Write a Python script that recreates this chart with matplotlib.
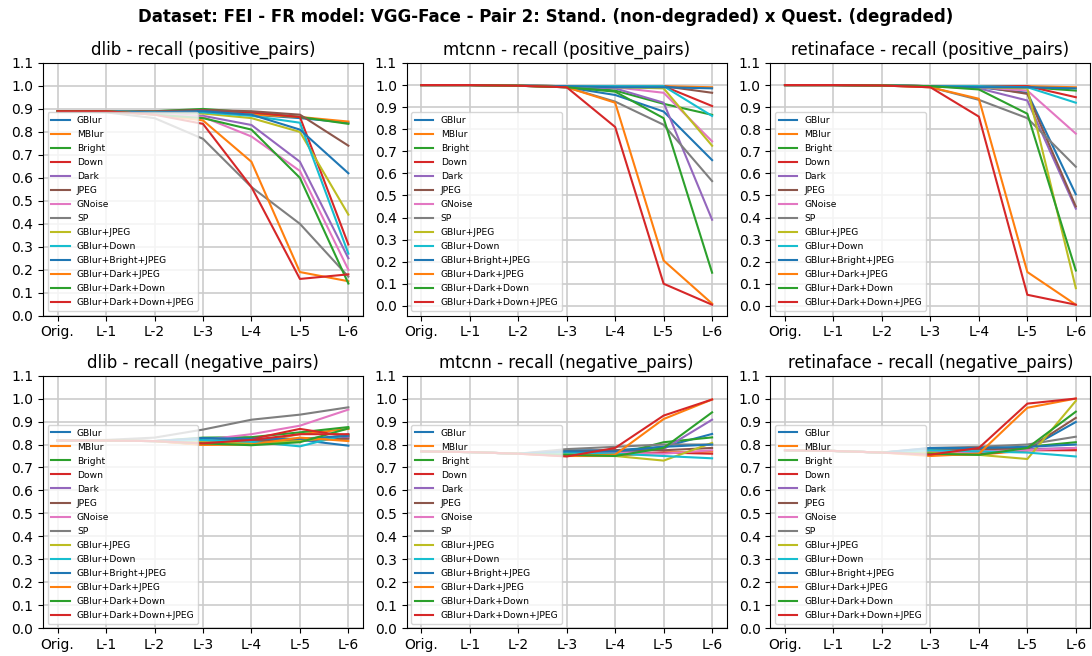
import numpy as np
import matplotlib
matplotlib.use("Agg")
import matplotlib.pyplot as plt

levels = ["Orig.", "L-1", "L-2", "L-3", "L-4", "L-5", "L-6"]

series_names = [
    "GBlur", "MBlur", "Bright", "Down", "Dark", "JPEG", "GNoise", "SP",
    "GBlur+JPEG", "GBlur+Down", "GBlur+Bright+JPEG", "GBlur+Dark+JPEG",
    "GBlur+Dark+Down", "GBlur+Dark+Down+JPEG",
]

series_colors = [
    "tab:blue", "tab:orange", "tab:green", "tab:red", "tab:purple", "tab:brown",
    "tab:pink", "tab:gray", "tab:olive", "tab:cyan", "tab:blue", "tab:orange",
    "tab:green", "tab:red",
]

# Recall per degradation level, one row per degradation type
dlib_positive = [
    [0.89, 0.89, 0.885, 0.895, 0.875, 0.86, 0.84],
    [0.89, 0.89, 0.885, 0.895, 0.875, 0.865, 0.845],
    [0.89, 0.89, 0.89, 0.90, 0.885, 0.865, 0.835],
    [0.89, 0.89, 0.885, 0.895, 0.885, 0.865, 0.31],
    [0.89, 0.89, 0.88, 0.87, 0.83, 0.67, 0.25],
    [0.89, 0.89, 0.89, 0.895, 0.89, 0.875, 0.74],
    [0.89, 0.89, 0.88, 0.865, 0.78, 0.63, 0.20],
    [0.89, 0.885, 0.86, 0.77, 0.56, 0.40, 0.17],
    [0.89, 0.89, 0.885, 0.88, 0.86, 0.80, 0.44],
    [0.89, 0.89, 0.885, 0.885, 0.87, 0.84, 0.27],
    [0.89, 0.89, 0.885, 0.89, 0.875, 0.81, 0.62],
    [0.89, 0.89, 0.875, 0.85, 0.67, 0.19, 0.15],
    [0.89, 0.89, 0.875, 0.86, 0.81, 0.60, 0.14],
    [0.89, 0.89, 0.875, 0.835, 0.56, 0.16, 0.18],
]

mtcnn_positive = [
    [1.0, 1.0, 0.997, 0.99, 0.955, 0.88, 0.66],
    [1.0, 1.0, 0.997, 0.995, 0.995, 0.995, 0.99],
    [1.0, 1.0, 0.997, 0.995, 0.975, 0.915, 0.865],
    [1.0, 1.0, 0.997, 0.995, 0.995, 0.995, 0.905],
    [1.0, 1.0, 0.997, 0.995, 0.985, 0.92, 0.39],
    [1.0, 1.0, 0.997, 0.995, 0.995, 0.995, 0.965],
    [1.0, 1.0, 0.997, 0.995, 0.99, 0.965, 0.745],
    [1.0, 1.0, 0.997, 0.99, 0.925, 0.82, 0.565],
    [1.0, 1.0, 0.997, 0.995, 0.99, 0.985, 0.725],
    [1.0, 1.0, 0.997, 0.995, 0.995, 0.995, 0.86],
    [1.0, 1.0, 0.997, 0.995, 0.99, 0.99, 0.985],
    [1.0, 1.0, 0.997, 0.99, 0.92, 0.205, 0.01],
    [1.0, 1.0, 0.997, 0.99, 0.97, 0.85, 0.15],
    [1.0, 1.0, 0.997, 0.99, 0.81, 0.10, 0.005],
]

retinaface_positive = [
    [1.0, 1.0, 0.998, 0.995, 0.99, 0.965, 0.505],
    [1.0, 1.0, 0.998, 0.995, 0.995, 0.995, 0.99],
    [1.0, 1.0, 0.998, 0.995, 0.99, 0.99, 0.975],
    [1.0, 1.0, 0.998, 0.995, 0.995, 0.995, 0.945],
    [1.0, 1.0, 0.998, 0.995, 0.985, 0.93, 0.44],
    [1.0, 1.0, 0.998, 0.995, 0.995, 0.96, 0.45],
    [1.0, 1.0, 0.998, 0.995, 0.99, 0.975, 0.78],
    [1.0, 1.0, 0.998, 0.99, 0.933, 0.85, 0.63],
    [1.0, 1.0, 0.998, 0.995, 0.99, 0.985, 0.08],
    [1.0, 1.0, 0.998, 0.995, 0.995, 0.99, 0.92],
    [1.0, 1.0, 0.998, 0.995, 0.99, 0.99, 0.985],
    [1.0, 1.0, 0.998, 0.99, 0.938, 0.153, 0.005],
    [1.0, 1.0, 0.998, 0.995, 0.98, 0.87, 0.16],
    [1.0, 1.0, 0.998, 0.99, 0.857, 0.05, 0.005],
]

dlib_negative = [
    [0.817, 0.817, 0.815, 0.825, 0.822, 0.820, 0.795],
    [0.817, 0.817, 0.815, 0.800, 0.807, 0.845, 0.868],
    [0.817, 0.817, 0.815, 0.830, 0.832, 0.853, 0.876],
    [0.817, 0.817, 0.815, 0.800, 0.824, 0.868, 0.835],
    [0.817, 0.817, 0.815, 0.815, 0.810, 0.815, 0.830],
    [0.817, 0.817, 0.815, 0.820, 0.815, 0.820, 0.825],
    [0.817, 0.817, 0.815, 0.820, 0.845, 0.882, 0.952],
    [0.817, 0.820, 0.830, 0.865, 0.908, 0.930, 0.962],
    [0.817, 0.817, 0.815, 0.810, 0.805, 0.815, 0.840],
    [0.817, 0.817, 0.815, 0.820, 0.812, 0.792, 0.845],
    [0.817, 0.817, 0.815, 0.828, 0.825, 0.825, 0.838],
    [0.817, 0.817, 0.815, 0.798, 0.800, 0.830, 0.815],
    [0.817, 0.817, 0.815, 0.805, 0.797, 0.810, 0.870],
    [0.817, 0.817, 0.815, 0.805, 0.820, 0.845, 0.845],
]

mtcnn_negative = [
    [0.770, 0.767, 0.760, 0.775, 0.775, 0.790, 0.846],
    [0.770, 0.767, 0.760, 0.750, 0.750, 0.765, 0.770],
    [0.770, 0.767, 0.760, 0.760, 0.755, 0.810, 0.831],
    [0.770, 0.767, 0.760, 0.755, 0.760, 0.765, 0.760],
    [0.770, 0.767, 0.760, 0.765, 0.765, 0.780, 0.908],
    [0.770, 0.767, 0.760, 0.770, 0.775, 0.775, 0.785],
    [0.770, 0.767, 0.760, 0.760, 0.765, 0.760, 0.775],
    [0.770, 0.767, 0.760, 0.780, 0.790, 0.800, 0.800],
    [0.770, 0.767, 0.760, 0.760, 0.750, 0.730, 0.807],
    [0.770, 0.767, 0.760, 0.765, 0.760, 0.750, 0.740],
    [0.770, 0.767, 0.760, 0.770, 0.770, 0.790, 0.800],
    [0.770, 0.767, 0.760, 0.750, 0.756, 0.911, 0.996],
    [0.770, 0.767, 0.760, 0.755, 0.750, 0.785, 0.940],
    [0.770, 0.767, 0.760, 0.748, 0.785, 0.926, 0.996],
]

retinaface_negative = [
    [0.775, 0.772, 0.765, 0.780, 0.780, 0.780, 0.898],
    [0.775, 0.772, 0.765, 0.755, 0.755, 0.775, 0.780],
    [0.775, 0.772, 0.765, 0.770, 0.770, 0.790, 0.810],
    [0.775, 0.772, 0.765, 0.760, 0.760, 0.775, 0.775],
    [0.775, 0.772, 0.765, 0.770, 0.770, 0.780, 0.785],
    [0.775, 0.772, 0.765, 0.780, 0.780, 0.780, 0.916],
    [0.775, 0.772, 0.765, 0.765, 0.770, 0.775, 0.785],
    [0.775, 0.772, 0.765, 0.785, 0.790, 0.800, 0.834],
    [0.775, 0.772, 0.765, 0.765, 0.755, 0.737, 0.990],
    [0.775, 0.772, 0.765, 0.775, 0.770, 0.765, 0.748],
    [0.775, 0.772, 0.765, 0.785, 0.785, 0.790, 0.800],
    [0.775, 0.772, 0.765, 0.750, 0.760, 0.960, 1.000],
    [0.775, 0.772, 0.765, 0.760, 0.755, 0.785, 0.943],
    [0.775, 0.772, 0.765, 0.756, 0.785, 0.978, 1.000],
]

panels = [
    ("dlib - recall (positive_pairs)", dlib_positive),
    ("mtcnn - recall (positive_pairs)", mtcnn_positive),
    ("retinaface - recall (positive_pairs)", retinaface_positive),
    ("dlib - recall (negative_pairs)", dlib_negative),
    ("mtcnn - recall (negative_pairs)", mtcnn_negative),
    ("retinaface - recall (negative_pairs)", retinaface_negative),
]

fig, axes = plt.subplots(2, 3, figsize=(10.92, 6.56), dpi=100)
fig.subplots_adjust(left=0.0394, right=0.9985, top=0.904, bottom=0.0422,
                    wspace=0.137, hspace=0.237)
fig.suptitle("Dataset: FEI - FR model: VGG-Face - Pair 2: Stand. (non-degraded) x Quest. (degraded)",
             fontsize=12, fontweight="bold", y=0.988)

x = np.arange(len(levels))
for ax, (title, rows) in zip(axes.flat, panels):
    for name, color, vals in zip(series_names, series_colors, rows):
        ax.plot(x, vals, color=color, linewidth=1.5, label=name)
    ax.set_title(title, fontsize=12)
    ax.set_xticks(x)
    ax.set_xticklabels(levels)
    ax.set_yticks(np.round(np.arange(0, 1.11, 0.1), 1))
    ax.grid(True, color="#cccccc", linewidth=1.2)
    ax.set_axisbelow(True)
    ax.legend(loc="lower left", fontsize=6.6, labelspacing=0.55)

fig.savefig("out.png", dpi=100)
